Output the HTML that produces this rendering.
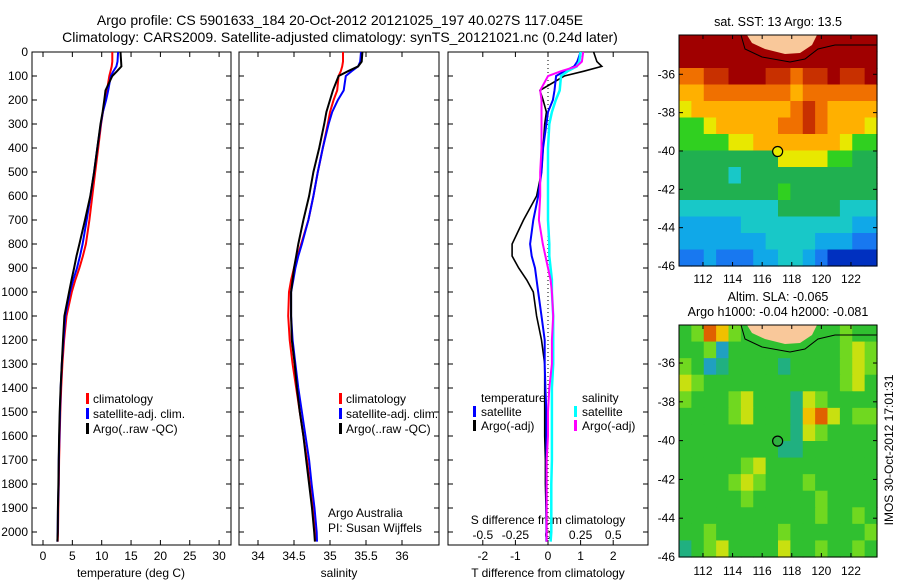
<!DOCTYPE html>
<html><head><meta charset="utf-8"><style>
html,body{margin:0;padding:0;background:#fff}
svg{display:block;font-family:"Liberation Sans",sans-serif}
</style></head><body>
<svg id="fig" width="900" height="580" viewBox="0 0 900 580" xmlns="http://www.w3.org/2000/svg">
<text x="340" y="25" font-size="14" text-anchor="middle">Argo profile: CS 5901633_184 20-Oct-2012 20121025_197 40.027S 117.045E</text>
<text x="340" y="42" font-size="14" text-anchor="middle">Climatology: CARS2009. Satellite-adjusted climatology: synTS_20121021.nc (0.24d later)</text>
<text x="778" y="26" font-size="12.5" text-anchor="middle">sat. SST: 13 Argo: 13.5</text>
<text x="778" y="301" font-size="12.5" text-anchor="middle">Altim. SLA: -0.065</text>
<text x="778" y="316" font-size="12.5" text-anchor="middle">Argo h1000: -0.04 h2000: -0.081</text>
<text transform="translate(893,450) rotate(-90)" font-size="12" text-anchor="middle">IMOS 30-Oct-2012 17:01:31</text>
</svg>
<script>
// ---------- data ----------
const depths = [0,40,60,80,100,160,200,250,300,400,500,600,700,800,850,900,950,1000,1100,1200,1300,1400,1500,1600,1700,1800,1900,2000,2040];
const climT = [11.8,11.8,11.7,11.5,11.3,10.9,10.6,10.2,9.9,9.4,8.9,8.4,7.9,7.3,6.8,6.2,5.5,4.9,4.0,3.6,3.3,3.1,2.95,2.85,2.75,2.7,2.6,2.55,2.5];
const climS = [35.18,35.18,35.17,35.15,35.12,35.1,35.05,35.0,34.97,34.9,34.83,34.77,34.7,34.6,34.55,34.5,34.46,34.43,34.42,34.44,34.48,34.53,34.58,34.63,34.68,34.72,34.76,34.79,34.8];
const satTdiff = [1.0,0.9,0.8,0.5,0.25,0.2,0.15,0.0,-0.05,-0.15,-0.2,-0.3,-0.45,-0.55,-0.5,-0.4,-0.35,-0.3,-0.2,-0.1,-0.1,-0.08,-0.05,-0.05,-0.05,-0.05,-0.05,-0.05,-0.05];
const argoTdiff = [1.4,1.5,1.65,1.1,0.5,-0.25,-0.15,-0.05,-0.1,-0.15,-0.2,-0.35,-0.75,-1.1,-1.1,-0.9,-0.65,-0.45,-0.35,-0.2,-0.1,-0.1,-0.1,-0.1,-0.08,-0.08,-0.06,-0.05,-0.05];
const satSdiff = [0.25,0.24,0.22,0.15,0.1,0.09,0.06,0.03,0.01,0,0,0,0,0.01,0.01,0.02,0.03,0.03,0.04,0.04,0.04,0.03,0.03,0.03,0.03,0.025,0.025,0.025,0.02];
const argoSdiff = [0.27,0.26,0.22,0.1,0.0,-0.06,-0.05,-0.05,-0.05,-0.05,-0.06,-0.06,-0.07,-0.04,-0.02,0,0.02,0.03,0.04,0.03,0.03,0.01,0,0,-0.01,-0.01,-0.01,-0.01,-0.01];
const depthTicks = [0,100,200,300,400,500,600,700,800,900,1000,1100,1200,1300,1400,1500,1600,1700,1800,1900,2000];
const tempTicks = [0,5,10,15,20,25,30];
const salTicks = [34,34.5,35,35.5,36];
const tdiffTicks = [-2,-1,0,1,2];
const sdiffTicks = [-0.5,-0.25,0,0.25,0.5];
const latTicks = [-36,-38,-40,-42,-44,-46];
const lonTicks = [112,114,116,118,120,122];
const argoLon = 117.045, argoLat = -40.027;
const sstGrid = [
"bbbbbbbbbbbbbbbb","bbbbbbbbbbbbbbbb","99aabbbaa9aabaab","8899999998999999",
"7888888889a98888","6678888899a98887","6666778888888766","5555555577776655",
"5555455555555555","5555555565555555","4444444455555444","3333344444444433",
"3333333444433322","2232223344321111"];
const slaGrid = [
"4587544444444544","4452444444444565","5423444434444565","6544444444444564",
"5444564443654444","4444564443786455","4444444443654444","4444444433444444",
"4444456444444444","4444565444544444","4444454444454444","4444444444454454",
"4454444454444445","3456444464454454"];
// ---------- helpers ----------
const svg = document.getElementById('fig');
const NS = 'http://www.w3.org/2000/svg';
function el(tag, attrs, parent){const e=document.createElementNS(NS,tag);for(const k in attrs)e.setAttribute(k,attrs[k]);(parent||svg).appendChild(e);return e;}
const Y0=52, DPX=0.24, PB=545;
const yD = d => Y0 + d*DPX;
function panel(name,x0,x1){
  const r=el('rect',{x:x0,y:Y0,width:x1-x0,height:PB-Y0,fill:'none',stroke:'#000','stroke-width':1});
  
  
  depthTicks.forEach(d=>{
    el('line',{x1:x0,x2:x0+5,y1:yD(d),y2:yD(d),stroke:'#000'});
    el('line',{x1:x1,x2:x1-5,y1:yD(d),y2:yD(d),stroke:'#000'});
  });
}
function xticks(sc,ticks,labelY,nameP){
  ticks.forEach(t=>{const x=sc(t);
    el('line',{x1:x,x2:x,y1:PB,y2:PB-5,stroke:'#000'});
    el('line',{x1:x,x2:x,y1:Y0,y2:Y0+5,stroke:'#000'});
    const tx=el('text',{x:x,y:labelY,'font-size':12,'text-anchor':'middle'});tx.textContent=t;
    
    
  });
}
function line(sc,vals,color,name,w){
  const pts=vals.map((v,i)=>sc(v).toFixed(1)+','+yD(depths[i]).toFixed(1)).join(' ');
  const p=el('polyline',{points:pts,fill:'none',stroke:color,'stroke-width':w||2});
  
  
}
function txt(x,y,s,name,anchor,parent){const t=el('text',{x:x,y:y,'font-size':12,'text-anchor':anchor||'start'},parent);t.textContent=s;
  
  return t;}
function legBar(x,y,color,name){const r=el('rect',{x:x,y:y-10,width:3,height:11,fill:color});
  
  }
// ---------- panel 1: temperature ----------
const xT = v => 43 + v*5.87;
panel('temperature-panel',32,231);
depthTicks.forEach(d=>{txt(28,yD(d)+4,String(d),'depth-tick-label','end');});
xticks(xT,tempTicks,560,'temperature');
txt(131,577,'temperature (deg C)','temperature-axis-title','middle');
line(xT,climT,'#ff0000','temperature-climatology-line');
line(xT,climT.map((v,i)=>v+satTdiff[i]),'#0000ff','temperature-satellite-line');
line(xT,climT.map((v,i)=>v+argoTdiff[i]),'#000000','temperature-argo-line');
legBar(86,403,'#ff0000','legend-climatology-swatch');txt(93,403,'climatology','legend-climatology');
legBar(86,418,'#0000ff','legend-satellite-swatch');txt(93,418,'satellite-adj. clim.','legend-satellite');
legBar(86,433,'#000','legend-argo-swatch');txt(93,433,'Argo(..raw -QC)','legend-argo');
// ---------- panel 2: salinity ----------
const xS = v => 330 + (v-35)*72;
panel('salinity-panel',239,439);
xticks(xS,salTicks,560,'salinity');
txt(339,577,'salinity','salinity-axis-title','middle');
line(xS,climS,'#ff0000','salinity-climatology-line');
line(xS,climS.map((v,i)=>v+satSdiff[i]),'#0000ff','salinity-satellite-line');
line(xS,climS.map((v,i)=>v+argoSdiff[i]),'#000000','salinity-argo-line');
legBar(339,403,'#ff0000','legend2-climatology-swatch');txt(346,403,'climatology','legend2-climatology');
legBar(339,418,'#0000ff','legend2-satellite-swatch');txt(346,418,'satellite-adj. clim.','legend2-satellite');
legBar(339,433,'#000','legend2-argo-swatch');txt(346,433,'Argo(..raw -QC)','legend2-argo');
txt(328,517,'Argo Australia','argo-australia-credit');
txt(328,532,'PI: Susan Wijffels','pi-credit');
// ---------- panel 3: differences ----------
const xTd = v => 548 + v*32.6;
const xSd = v => 548 + v*130.4;
panel('difference-panel',448,648);
el('line',{x1:548,x2:548,y1:Y0,y2:PB,stroke:'#000','stroke-dasharray':'1,3'});
xticks(xTd,tdiffTicks,560,'tdiff');
sdiffTicks.forEach(t=>{txt(xSd(t),539,String(t),'sdiff-tick-label','middle');});
txt(548,524,'S difference from climatology','sdiff-axis-title','middle');
txt(548,577,'T difference from climatology','tdiff-axis-title','middle');
line(xTd,argoTdiff,'#000000','tdiff-argo-line',1.6);
line(xTd,satTdiff,'#0000ff','tdiff-satellite-line');
line(xSd,satSdiff,'#00ffff','sdiff-satellite-line',2.5);
line(xSd,argoSdiff,'#ff00ff','sdiff-argo-line');
txt(481,402,'temperature','legend3-temperature-header');
legBar(473,416,'#0000ff','legend3-tsat-swatch');txt(481,416,'satellite','legend3-tsat');
legBar(473,430,'#000','legend3-targo-swatch');txt(481,430,'Argo(-adj)','legend3-targo');
txt(582,402,'salinity','legend3-salinity-header');
legBar(574,416,'#00ffff','legend3-ssat-swatch');txt(582,416,'satellite','legend3-ssat');
legBar(574,430,'#ff00ff','legend3-sargo-swatch');txt(582,430,'Argo(-adj)','legend3-sargo');
// ---------- maps ----------
const sstPal = {1:'#0030c0',2:'#1878f0',3:'#10a8e8',4:'#18c8c8',5:'#20b050',6:'#30d020',7:'#e8e800',8:'#ffb000',9:'#f07000',10:'#c83000',11:'#a00000'};
const slaPal = {2:'#20a0c0',3:'#20b080',4:'#30c030',5:'#70d820',6:'#c8e010',7:'#f0c000',8:'#e06000'};
function map(name,grid,colors,top,bot,latTop,latBot,lonLabelY,dotFill){
  const L=679,R=877,lonL=110.38,lonR=123.76;
  const xL = v => L + (v-lonL)*(R-L)/(lonR-lonL);
  const yL = v => top + (latTop-v)*(bot-top)/(latTop-latBot);
  const g=el('g',{});
  
  
  const rows=grid.length, cols=grid[0].length, cw=(R-L)/cols, ch=(bot-top)/rows;
  grid.forEach((row,r)=>{for(let c=0;c<cols;c++){
    el('rect',{x:(L+c*cw).toFixed(2),y:(top+r*ch).toFixed(2),width:(cw+0.6).toFixed(2),height:(ch+0.6).toFixed(2),fill:colors[parseInt(row[c],16)]},g);
  }});
  const land=el('path',{d:`M747 ${top} L752 ${top+8} L765 ${top+14} L785 ${top+19} L800 ${top+18} L812 ${top+10} L817 ${top} Z`,fill:'#f9c89a'},g);
  
  
  el('path',{d:`M741 ${top} L745 ${top+14} L762 ${top+22} L790 ${top+27} L805 ${top+24} L818 ${top+14} L835 ${top+10} L877 ${top+10}`,fill:'none',stroke:'#000','stroke-width':1},g);
  el('rect',{x:L,y:top,width:R-L,height:bot-top,fill:'none',stroke:'#000'},g);
  latTicks.forEach(v=>{const y=yL(v);el('line',{x1:L,x2:L+4,y1:y,y2:y,stroke:'#000'},g);el('line',{x1:R,x2:R-4,y1:y,y2:y,stroke:'#000'},g);
    txt(675,y+4,String(v),name+'-lat-label','end',g);});
  lonTicks.forEach(v=>{const x=xL(v);el('line',{x1:x,x2:x,y1:bot,y2:bot-4,stroke:'#000'},g);el('line',{x1:x,x2:x,y1:top,y2:top+4,stroke:'#000'},g);
    txt(x,lonLabelY,String(v),name+'-lon-label','middle',g);});
  const c=el('circle',{cx:xL(argoLon),cy:yL(argoLat),r:5,fill:dotFill,stroke:'#000','stroke-width':1.2},g);
  
  
}
map('sst-map',sstGrid,sstPal,35,266,-33.95,-46,283,'#e8e800');
map('sla-map',slaGrid,slaPal,325,557,-34.04,-46,575,'#30b040');
</script>
</body></html>
